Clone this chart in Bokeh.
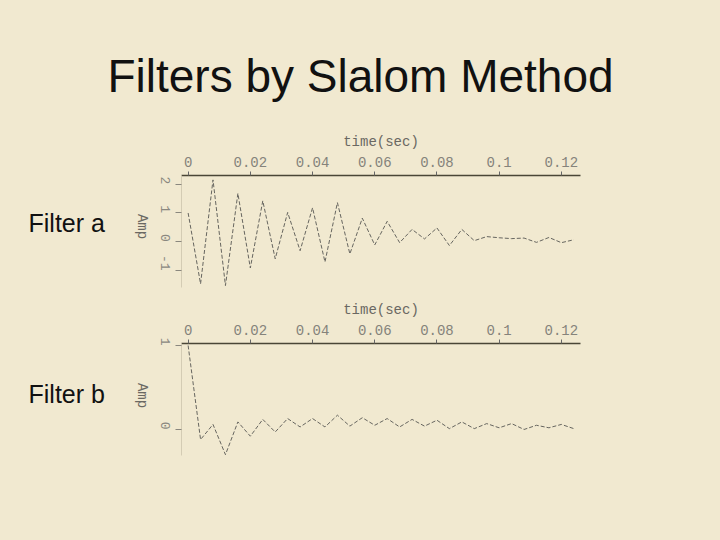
import math
from bokeh.plotting import figure
from bokeh.layouts import column, row
from bokeh.models import Range1d, FixedTicker, ColumnDataSource, GlobalInlineStyleSheet
from bokeh.core.properties import value
from bokeh.embed import file_html
from bokeh.resources import INLINE

# ---- data ----
time_sec = [0.000, 0.004, 0.008, 0.012, 0.016, 0.020, 0.024, 0.028,
            0.032, 0.036, 0.040, 0.044, 0.048, 0.052, 0.056, 0.060,
            0.064, 0.068, 0.072, 0.076, 0.080, 0.084, 0.088, 0.092,
            0.096, 0.100, 0.104, 0.108, 0.112, 0.116, 0.120, 0.124]
filter_a = [1.00, -1.46, 2.15, -1.52, 1.68, -0.91, 1.42, -0.59,
            1.02, -0.31, 1.18, -0.70, 1.36, -0.42, 0.82, -0.11,
            0.71, -0.03, 0.43, 0.10, 0.48, -0.13, 0.43, 0.04,
            0.18, 0.14, 0.11, 0.13, -0.02, 0.15, -0.03, 0.07]
filter_b = [1.00, -0.12, 0.06, -0.30, 0.09, -0.08, 0.12, -0.03,
            0.13, 0.03, 0.13, 0.03, 0.17, 0.04, 0.14, 0.05,
            0.13, 0.03, 0.12, 0.04, 0.11, 0.01, 0.09, 0.01,
            0.07, 0.02, 0.07, 0.00, 0.05, 0.02, 0.06, 0.01]

x_ticks = [0, 0.02, 0.04, 0.06, 0.08, 0.1, 0.12]
x_tick_labels = ["0", "0.02", "0.04", "0.06", "0.08", "0.1", "0.12"]
a_ticks = [-1, 0, 1, 2]
a_tick_labels = ["-1", "0", "1", "2"]
b_ticks = [0, 1]
b_tick_labels = ["0", "1"]

slide_title = "Filters by Slalom Method"
panel_names = ["Filter a", "Filter b"]
x_title = "time(sec)"
y_title = "Amp"

BG = "#f1e9d0"
MONO = "Liberation Mono"
SANS = "Liberation Sans"

LEFT_W = 150          # width of the text column at the left
PLOT_W = 720 - LEFT_W
FRAME_L = 181 - LEFT_W
FRAME_W = 399


def blank(width, height, top, bottom, y_bottom, y_top):
    # text-only figure; its y range is given in slide pixels (top-down)
    p = figure(width=width, height=height, output_backend="svg", toolbar_location=None,
               x_range=Range1d(0, width), y_range=Range1d(y_bottom, y_top),
               x_axis_location=None, y_axis_location=None,
               min_border=0, min_border_left=0, min_border_right=0,
               min_border_top=top, min_border_bottom=bottom)
    p.background_fill_color = BG
    p.border_fill_color = BG
    p.outline_line_color = None
    p.grid.visible = False
    return p


def make_panel(values, y_lo, y_hi, yticks, ylabels, height, top, bottom):
    p = figure(width=PLOT_W, height=height, output_backend="svg", toolbar_location=None,
               x_range=Range1d(-0.00213, 0.12615), y_range=Range1d(y_lo, y_hi),
               x_axis_location="above",
               min_border_left=FRAME_L, min_border_right=PLOT_W - FRAME_L - FRAME_W,
               min_border_top=top, min_border_bottom=bottom)
    p.background_fill_color = BG
    p.border_fill_color = BG
    p.outline_line_color = None
    p.xgrid.visible = False
    p.ygrid.visible = False

    xa = p.xaxis[0]
    xa.ticker = FixedTicker(ticks=x_ticks)
    xa.major_label_overrides = dict(zip(x_ticks, x_tick_labels))
    xa.axis_label = x_title
    xa.axis_label_text_font = MONO
    xa.axis_label_text_font_size = "14px"
    xa.axis_label_text_font_style = "normal"
    xa.axis_label_text_color = "#6a6862"
    xa.axis_label_standoff = 4
    xa.major_label_text_font = MONO
    xa.major_label_text_font_size = "14px"
    xa.major_label_text_color = "#85837b"
    xa.major_label_standoff = 5
    xa.major_tick_in = 0
    xa.major_tick_out = 4
    xa.major_tick_line_color = "#666"
    xa.minor_tick_line_color = None
    xa.axis_line_color = "#4a4636"
    xa.axis_line_width = 1.5

    ya = p.yaxis[0]
    ya.ticker = FixedTicker(ticks=yticks)
    ya.major_label_overrides = dict(zip(yticks, ylabels))
    ya.major_label_orientation = -math.pi / 2
    ya.major_label_text_font = MONO
    ya.major_label_text_font_size = "13px"
    ya.major_label_text_color = "#8a887f"
    ya.major_label_standoff = 10
    ya.major_tick_in = 0
    ya.major_tick_out = 6
    ya.major_tick_line_color = "#8a877e"
    ya.minor_tick_line_color = None
    ya.axis_line_color = "#d4ccb4"
    ya.axis_line_width = 1

    src = ColumnDataSource(dict(t=time_sec, amp=values))
    p.line(x="t", y="amp", source=src, line_color="#66655f", line_width=1,
           line_dash="4 2")
    return p


def side_texts(p, name, name_y, amp_y):
    p.text(x=[28], y=[name_y], text=[name], text_font=value(SANS),
           text_font_size="25px", text_color="#111111", text_align="left",
           text_baseline="middle")
    p.text(x=[141], y=[amp_y], text=[y_title], text_font=value(MONO),
           text_font_size="14px", text_color="#6a6862", text_align="center",
           text_baseline="middle", angle=-math.pi / 2)


# title strip (slide y 0..120)
pt = blank(720, 120, 0, 0, 120, 0)
pt.text(x=[360], y=[75], text=[slide_title], text_font=value(SANS),
        text_font_size="46px", text_color="#111111", text_align="center",
        text_baseline="middle")

# panel a (slide y 120..290, frame 175..287)
la = blank(LEFT_W, 170, 55, 3, 287, 175)
side_texts(la, panel_names[0], 222, 226)
pa = make_panel(filter_a, -1.587, 2.302, a_ticks, a_tick_labels, 170, 55, 3)

# panel b (slide y 290..540, frame 343..455)
lb = blank(LEFT_W, 250, 53, 85, 455, 343)
side_texts(lb, panel_names[1], 393, 395)
pb = make_panel(filter_b, -0.31, 1.024, b_ticks, b_tick_labels, 250, 53, 85)

layout = column(pt, row(la, pa, spacing=0), row(lb, pb, spacing=0), spacing=0)
layout.stylesheets = [GlobalInlineStyleSheet(css="body { background: %s; }" % BG)]

open("out.html", "w").write(file_html(layout, INLINE))
